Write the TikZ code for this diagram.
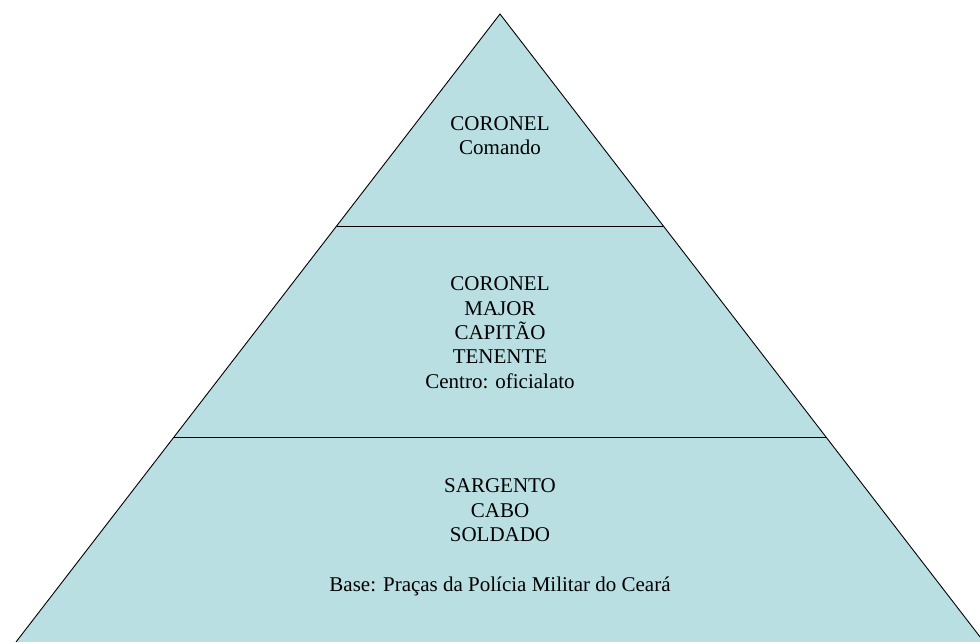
\documentclass[tikz,border=0pt]{standalone}
\usepackage{fontspec}
\setmainfont{Liberation Serif}
\definecolor{pyrfill}{RGB}{185,223,227}
\begin{document}
\begin{tikzpicture}[x=1pt,y=-1pt,
  lbl/.style={anchor=base,inner sep=0pt,font=\fontsize{21}{24.5}\selectfont},
  edge/.style={draw=black,line width=0.9pt}]
\useasboundingbox (0,0) rectangle (980,642);
\clip (0,0) rectangle (980,642);
\coordinate (apex) at (500,14);
\coordinate (bl) at (16,642);
\coordinate (br) at (984,642);
\coordinate (l1) at (337,226);
\coordinate (r1) at (663,226);
\coordinate (l2) at (173.5,437);
\coordinate (r2) at (826.5,437);
\fill[pyrfill] (apex) -- (br) -- (bl) -- cycle;
\draw[edge] (bl) -- (apex) -- (br);
\draw[edge] (l1) -- (r1);
\draw[edge] (l2) -- (r2);
\node[lbl] (t1) at (500,130) {CORONEL};
\node[lbl] (t2) at (500,154) {Comando};
\node[lbl] (m1) at (500,290) {CORONEL};
\node[lbl] (m2) at (500,315) {MAJOR};
\node[lbl] (m3) at (500,339) {CAPITÃO};
\node[lbl] (m4) at (500,363) {TENENTE};
\node[lbl] (m5) at (500,388) {Centro: oficialato};
\node[lbl] (b1) at (500,492) {SARGENTO};
\node[lbl] (b2) at (500,517) {CABO};
\node[lbl] (b3) at (500,541) {SOLDADO};
\node[lbl] (b4) at (500,591) {Base: Praças da Polícia Militar do Ceará};
\end{tikzpicture}
\end{document}
